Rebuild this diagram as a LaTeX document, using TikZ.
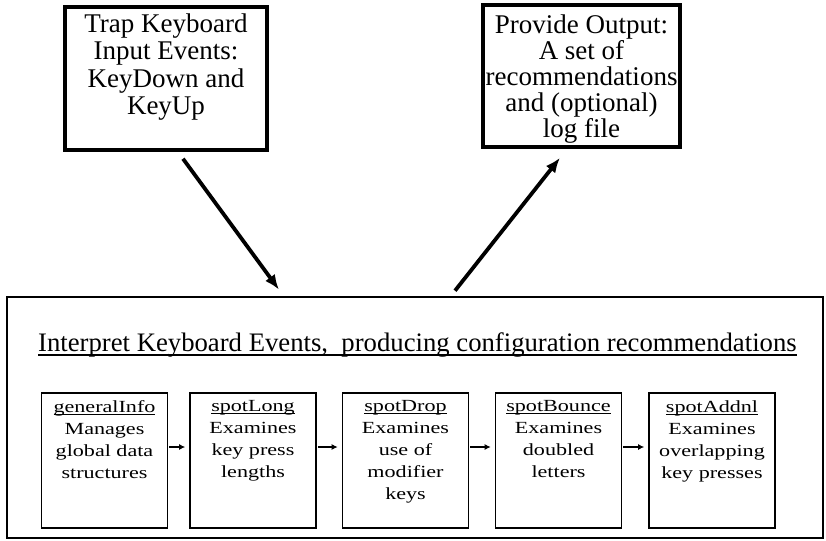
\documentclass[tikz,border=0pt]{standalone}
\usepackage{fontspec}
\setmainfont{Liberation Serif}
\newfontfamily\smallfont[FakeStretch=1.3]{Liberation Serif}
\usetikzlibrary{arrows.meta,calc}
\newcommand\myul[3]{\setbox0\hbox{#3}\rlap{\rule[-#1]{\wd0}{#2}}\box0}
\tikzset{
  bigbox/.style={draw, line width=3.5pt, inner sep=0pt},
  mainbox/.style={draw, line width=2.6pt, inner sep=0pt},
  modbox/.style={draw, line width=1.6pt, inner sep=0pt, minimum width=126pt, minimum height=135pt},
  toptext/.style={anchor=north, inner sep=0pt, align=center, font=\fontsize{27}{27.5}\selectfont},
  modtext/.style={anchor=north, inner sep=0pt, align=center, font=\smallfont\fontsize{17}{22}\selectfont},
  thickarrow/.style={line width=3.8pt, -{Latex[length=15pt,width=12pt]}},
  thinarrow/.style={line width=1.5pt, -{Latex[length=6pt,width=6pt]}, shorten >=4pt, shorten <=1pt},
}
\begin{document}
\begin{tikzpicture}[x=1pt,y=-1pt]
\useasboundingbox (0,0) rectangle (826,540);
% top boxes
\node[bigbox, minimum width=202pt, minimum height=143pt] (trap) at (166,78.5) {};
\node[toptext] (traptext) at (166,13.5) {Trap Keyboard\\Input Events:\\KeyDown and\\KeyUp};
\node[bigbox, minimum width=197pt, minimum height=142pt] (out) at (581.5,76) {};
\node[toptext, font=\fontsize{27}{26}\selectfont] (outtext) at (581.5,14.5) {Provide Output:\\A set of\\recommendations\\and (optional)\\log file};
% main box
\node[mainbox, minimum width=816pt, minimum height=241pt] (interp) at (415,417.5) {};
\node[anchor=base west, inner sep=0pt, font=\fontsize{26.7}{27}\selectfont] (title) at (38,351)
  {\myul{4.5pt}{1.3pt}{Interpret Keyboard Events,\ \ producing configuration recommendations}};
% module boxes
\node[modbox] (b1) at (104.5,460.5) {};
\node[modbox] (b2) at (253,460.5) {};
\node[modbox] (b3) at (405.5,460.5) {};
\node[modbox] (b4) at (558.5,460.5) {};
\node[modbox] (b5) at (712,460.5) {};
\node[modtext] (t1) at (104.5,400.5) {\myul{2pt}{0.9pt}{generalInfo}\\Manages\\global data\\structures};
\node[modtext] (t2) at (253,400.5) {\myul{2pt}{0.9pt}{spotLong}\\Examines\\key press\\lengths};
\node[modtext] (t3) at (405.5,400.5) {\myul{2pt}{0.9pt}{spotDrop}\\Examines\\use of\\modifier\\keys};
\node[modtext] (t4) at (558.5,400.5) {\myul{2pt}{0.9pt}{spotBounce}\\Examines\\doubled\\letters};
\node[modtext] (t5) at (712,400.5) {\myul{2pt}{0.9pt}{spotAddnl}\\Examines\\overlapping\\key presses};
% module arrows
\draw[thinarrow] ([yshift=13.5pt]b1.east) -- ([yshift=13.5pt]b2.west);
\draw[thinarrow] ([yshift=13.5pt]b2.east) -- ([yshift=13.5pt]b3.west);
\draw[thinarrow] ([yshift=13.5pt]b3.east) -- ([yshift=13.5pt]b4.west);
\draw[thinarrow] ([yshift=13.5pt]b4.east) -- ([yshift=13.5pt]b5.west);
% big arrows
\draw[thickarrow] ([xshift=17pt,yshift=-7pt]trap.south) -- ([xshift=-136pt,yshift=6pt]interp.north);
\draw[thickarrow] ([xshift=40pt,yshift=5pt]interp.north) -- ([xshift=-21.5pt,yshift=-9pt]out.south);
\end{tikzpicture}
\end{document}
